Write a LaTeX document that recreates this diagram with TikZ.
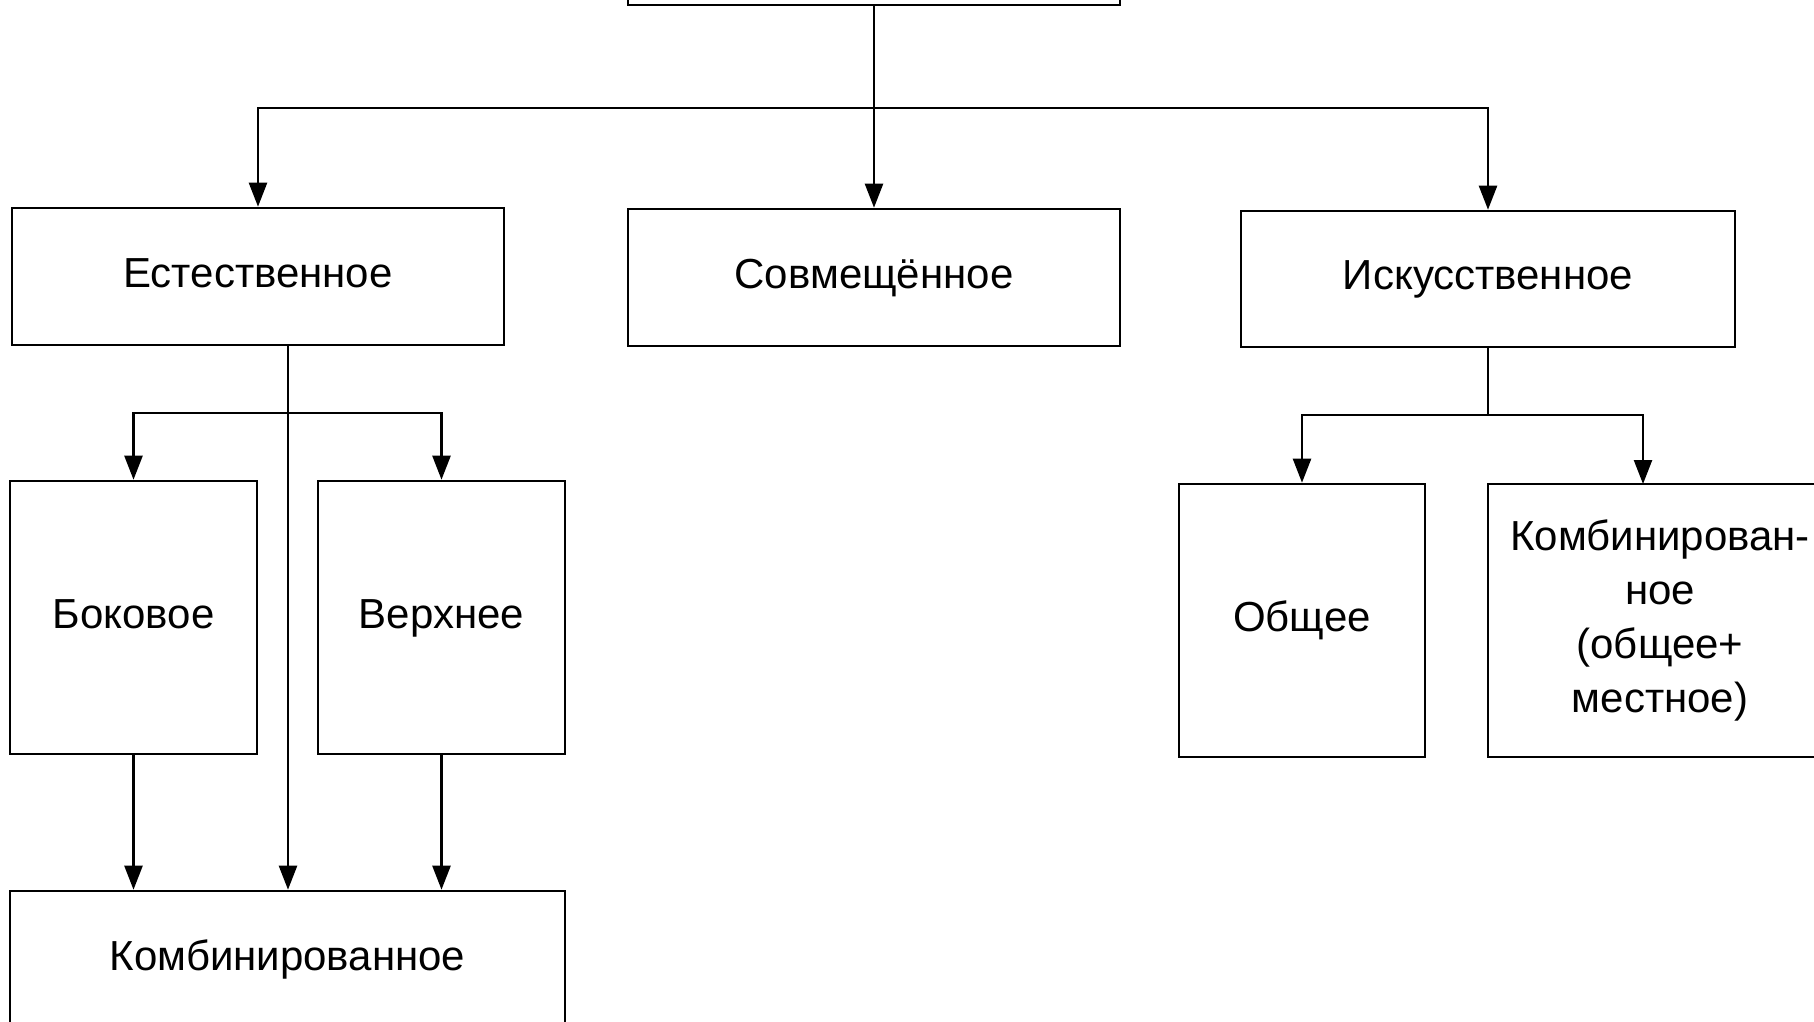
\documentclass[tikz,border=0pt]{standalone}
\usepackage{fontspec}
\setmainfont{Liberation Sans}
\usetikzlibrary{arrows.meta}
\begin{document}
\begin{tikzpicture}[x=1pt,y=-1pt,
  box/.style={draw,line width=2.6pt,inner sep=0pt,anchor=center,align=center,
    font=\fontsize{42}{54}\selectfont},
  one/.style={box,text height=30pt,text depth=9pt},
  conn/.style={line width=2.4pt},
  arr/.style={line width=2.4pt,-{Triangle[length=24pt,width=18pt]}}]
\useasboundingbox (0,0) rectangle (1814,1021);
\node[box,minimum width=492pt,minimum height=137pt] (top) at (874,-63.5) {};
\node[one,minimum width=492pt,minimum height=137pt] (est) at (258,276.5) {Естественное};
\node[one,minimum width=492pt,minimum height=137pt] (sovm) at (874,277.5) {Совмещённое};
\node[one,minimum width=494pt,minimum height=136pt] (isk) at (1488,279) {Искусственное};
\node[one,minimum width=247pt,minimum height=273pt] (bok) at (133.5,617.5) {Боковое};
\node[one,minimum width=247pt,minimum height=273pt] (verkh) at (441.5,617.5) {Верхнее};
\node[one,minimum width=555pt,minimum height=137pt] (komb) at (287.5,959.5) {Комбинированное};
\node[one,minimum width=246pt,minimum height=273pt] (obsh) at (1302,620.5) {Общее};
\node[box,minimum width=344pt,minimum height=273pt] (komb2) at (1660,620.5) {Комбинирован-\\ное\\(общее+\\местное)};
\coordinate (b1) at (874,108);
\coordinate (b2) at (288,413);
\coordinate (b3) at (1488,415);
\coordinate (k2in) at (1643,484);
% top level
\draw[arr] (top.south) -- (sovm.north);
\draw[arr] (b1) -| (est.north);
\draw[arr] (b1) -| (isk.north);
% natural
\draw[arr] (b2 |- est.south) -- (b2 |- komb.north);
\draw[arr] (b2) -| (bok.north);
\draw[arr] (b2) -| (verkh.north);
\draw[arr] (bok.south) -- (bok.south |- komb.north);
\draw[arr] (verkh.south) -- (verkh.south |- komb.north);
% artificial
\draw[conn] (isk.south) -- (b3);
\draw[arr] (b3) -| (obsh.north);
\draw[arr] (b3) -| (k2in);
\end{tikzpicture}
\end{document}
